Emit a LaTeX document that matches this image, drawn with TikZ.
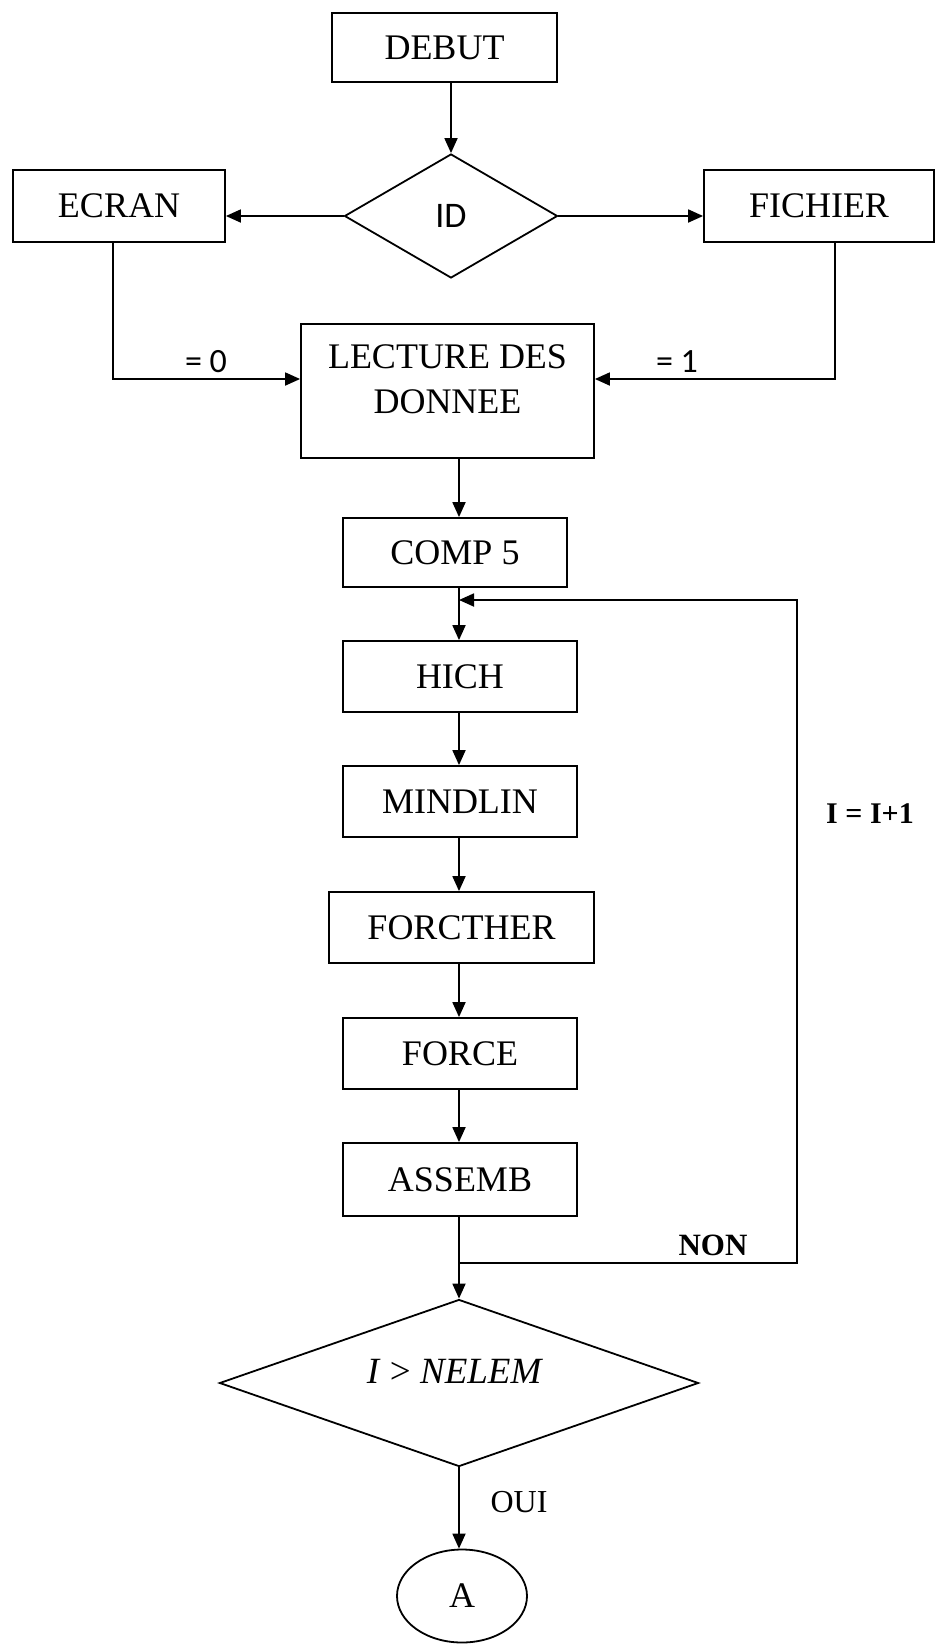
\documentclass[tikz,border=0pt]{standalone}
\usepackage{fontspec}
\setmainfont{Liberation Serif}
\newfontfamily\calib{Carlito}
\usetikzlibrary{shapes.geometric,arrows.meta}
\begin{document}
\begin{tikzpicture}[x=1pt,y=-1pt,
  line width=1.8pt,
  arr/.style={-{Triangle[length=15pt,width=13pt]}},
  box/.style={draw,rectangle,inner sep=0pt,font=\fontsize{36}{42}\selectfont},
  lbl/.style={inner sep=0pt,font=\fontsize{32}{36}\selectfont},
  sanslbl/.style={inner sep=0pt,font=\calib\fontsize{34}{38}\selectfont},
]
\useasboundingbox (0,0) rectangle (936,1644);

% nodes
\node[box,minimum width=225pt,minimum height=69pt] (debut) at (444.5,47.5) {DEBUT};
\node[draw,diamond,inner sep=0pt,minimum width=213pt,minimum height=124pt,
      font=\calib\fontsize{36}{40}\selectfont] (id) at (451,216) {ID};
\node[box,minimum width=212pt,minimum height=72pt] (ecran) at (119,206) {ECRAN};
\node[box,minimum width=230pt,minimum height=72pt] (fichier) at (819,206) {FICHIER};
\node[box,minimum width=293pt,minimum height=134pt] (lect) at (447.5,391) {};
\node[inner sep=0pt,align=center,font=\fontsize{36}{45}\selectfont] (lecttxt) at (447.5,379) {LECTURE DES\\DONNEE};
\node[box,minimum width=224pt,minimum height=69pt] (comp) at (455,552.5) {COMP 5};
\node[box,minimum width=234pt,minimum height=71pt] (hich) at (460,676.5) {HICH};
\node[box,minimum width=234pt,minimum height=71pt] (mind) at (460,801.5) {MINDLIN};
\node[box,minimum width=265pt,minimum height=71pt] (forct) at (461.5,927.5) {FORCTHER\hspace{24pt}};
\node[box,minimum width=234pt,minimum height=71pt] (force) at (460,1053.5) {FORCE};
\node[box,minimum width=234pt,minimum height=73pt] (assemb) at (460,1179.5) {ASSEMB};
\node[draw,diamond,inner sep=0pt,minimum width=479pt,minimum height=167pt] (cond) at (459,1383) {};
\node[inner sep=0pt,font=\fontsize{37}{40}\selectfont] (condtxt) at (455,1371) {\textit{I} > \textit{NELEM}};
\node[draw,ellipse,inner sep=0pt,minimum width=130pt,minimum height=93pt,
      font=\fontsize{36}{40}\selectfont] (a) at (462,1596) {A};

% labels
\node[sanslbl] (l0) at (206,362) {= 0};
\node[sanslbl] (l1) at (677,362) {= 1};
\node[lbl,font=\bfseries\fontsize{31}{36}\selectfont] (non) at (713,1245) {NON};
\node[lbl,font=\bfseries\fontsize{30}{36}\selectfont] (incr) at (870,814) {I = I+1};
\node[lbl] (oui) at (519,1502) {OUI};

% coordinates
\coordinate (sp) at (459,0);
\coordinate (e1) at (113,379);
\coordinate (f1) at (835,379);
\coordinate (j1) at (459,1263);
\coordinate (j2) at (459,600);
\coordinate (lx) at (797,0);

% connectors
\draw[arr] (id.north |- debut.south) -- (id.north);
\draw[arr] (id.west) -- (id.west -| ecran.east);
\draw[arr] (id.east) -- (id.east -| fichier.west);
\draw[arr] (ecran.south -| e1) -- (e1) -- (e1 -| lect.west);
\draw[arr] (fichier.south -| f1) -- (f1) -- (f1 -| lect.east);
\draw[arr] (sp |- lect.south) -- (sp |- comp.north);
\draw[arr] (sp |- comp.south) -- (sp |- hich.north);
\draw[arr] (sp |- hich.south) -- (sp |- mind.north);
\draw[arr] (sp |- mind.south) -- (sp |- forct.north);
\draw[arr] (sp |- forct.south) -- (sp |- force.north);
\draw[arr] (sp |- force.south) -- (sp |- assemb.north);
\draw (sp |- assemb.south) -- (j1);
\draw[arr] (j1) -- (cond.north);
\draw[arr] (j1) -- (j1 -| lx) -- (j2 -| lx) -- (j2);
\draw[arr] (cond.south) -- (cond.south |- a.north);
\end{tikzpicture}
\end{document}
